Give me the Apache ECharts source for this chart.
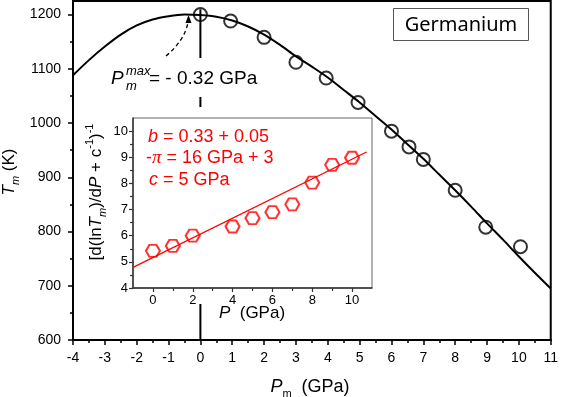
<!DOCTYPE html>
<html><head><meta charset="utf-8">
<script src="https://cdn.jsdelivr.net/npm/echarts@6/dist/echarts.min.js"></script>
<style>html,body{margin:0;padding:0;background:#fff}#c{width:561px;height:397px}</style>
</head><body><div id="c"></div>
<script>
// ---- data ----
const mainP = [0, 0.95, 2, 3, 3.95, 4.95, 6, 6.55, 7, 8, 8.96, 10.05];
const mainT = [1200, 1188, 1158, 1112, 1083, 1038, 985, 956, 933, 876, 808, 772];
const curveP = [-4, -3.5, -3, -2.5, -2, -1.5, -1, -0.5, 0, 0.5, 1, 1.5, 2, 2.5, 3, 3.5, 4, 4.5, 5, 5.5, 6, 6.5, 7, 7.5, 8, 8.5, 9, 9.5, 10, 10.5, 11];
const curveT = [1088, 1116, 1141, 1163, 1180, 1191, 1197, 1200, 1199, 1196, 1189, 1178, 1163, 1144, 1123, 1104, 1084, 1061, 1038, 1013, 988, 961, 934, 905, 876, 846, 815, 785, 754, 724, 695];
const vlineP = [0, 0];
const vlineT = [600, 1210];
const insetP = [0, 1, 2, 4, 5, 6, 7, 8, 9, 10];
const insetY = [5.42, 5.61, 6.0, 6.35, 6.67, 6.9, 7.2, 8.03, 8.71, 8.98];
const fitP = [-1, 10.73];
const fitY = [4.79, 9.2];
const mainYLabels = [600, 700, 800, 900, 1000, 1100, 1200];
const mainYMinor = [650, 750, 850, 950, 1050, 1150];
const insetXLabels = [0, 2, 4, 6, 8, 10];
const insetXMinor = [1, 3, 5, 7, 9];
const insetYLabels = [4, 5, 6, 7, 8, 9, 10];
const insetYMinor = [4.5, 5.5, 6.5, 7.5, 8.5, 9.5];

const FONT = '"Liberation Sans", Arial, sans-serif';
const zip = (a, b) => a.map((v, i) => [v, b[i]]);
const hexPath = 'path://M0,433 L250,0 L750,0 L1000,433 L750,866 L250,866 Z';
const plain = v => String(v);

const chart = echarts.init(document.getElementById('c'), null, {renderer: 'canvas'});
const lbl = (size, extra) => Object.assign({fontSize: size, color: '#000', fontFamily: FONT, formatter: plain}, extra || {});

const option = {
  animation: false,
  backgroundColor: '#fff',
  grid: [
    {left: 73, right: 6, top: 1, bottom: 57, show: true, borderColor: '#000', borderWidth: 2},
    {left: 133, right: 189, top: 118, bottom: 109, show: true, borderColor: '#666', borderWidth: 1, z: 4}
  ],
  xAxis: [
    {gridIndex: 0, type: 'value', min: -4, max: 11, interval: 1, position: 'bottom',
     axisLine: {onZero: false, lineStyle: {color: '#000', width: 2}},
     axisTick: {length: 5, lineStyle: {color: '#000', width: 1.5}},
     minorTick: {show: true, splitNumber: 2, length: 3, lineStyle: {color: '#000', width: 1.5}},
     splitLine: {show: false},
     axisLabel: lbl(14, {margin: 11})},
    {gridIndex: 1, type: 'value', min: -1, max: 11, position: 'bottom', z: 4,
     axisLine: {onZero: false, lineStyle: {color: '#333', width: 1.5}},
     axisTick: {customValues: insetXLabels, length: 4, lineStyle: {color: '#333', width: 1.2}},
     axisLabel: lbl(13, {customValues: insetXLabels, margin: 6}),
     splitLine: {show: false}},
    {gridIndex: 1, type: 'value', min: -1, max: 11, position: 'bottom', z: 4,
     axisLine: {show: false, onZero: false},
     axisTick: {customValues: insetXMinor, length: 3, lineStyle: {color: '#333', width: 1.2}},
     axisLabel: {show: false},
     splitLine: {show: false}}
  ],
  yAxis: [
    {gridIndex: 0, type: 'value', min: 600, max: 1225, position: 'left',
     axisLine: {onZero: false, lineStyle: {color: '#000', width: 2}},
     axisTick: {customValues: mainYLabels, length: 5, lineStyle: {color: '#000', width: 1.5}},
     axisLabel: lbl(14, {customValues: mainYLabels, margin: 12}),
     splitLine: {show: false}},
    {gridIndex: 0, type: 'value', min: 600, max: 1225, position: 'left',
     axisLine: {show: false, onZero: false},
     axisTick: {customValues: mainYMinor, length: 3, lineStyle: {color: '#000', width: 1.5}},
     axisLabel: {show: false},
     splitLine: {show: false}},
    {gridIndex: 1, type: 'value', min: 4, max: 10.5, position: 'left', z: 4,
     axisLine: {onZero: false, lineStyle: {color: '#333', width: 1.5}},
     axisTick: {customValues: insetYLabels, length: 4, lineStyle: {color: '#333', width: 1.2}},
     axisLabel: lbl(13, {customValues: insetYLabels, margin: 5}),
     splitLine: {show: false}},
    {gridIndex: 1, type: 'value', min: 4, max: 10.5, position: 'left', z: 4,
     axisLine: {show: false, onZero: false},
     axisTick: {customValues: insetYMinor, length: 3, lineStyle: {color: '#333', width: 1.2}},
     axisLabel: {show: false},
     splitLine: {show: false}}
  ],
  series: [
    {type: 'line', xAxisIndex: 0, yAxisIndex: 0, data: zip(vlineP, vlineT), symbol: 'none',
     lineStyle: {color: '#000', width: 2}, z: 1, silent: true},
    {type: 'line', xAxisIndex: 0, yAxisIndex: 0, data: zip(curveP, curveT), symbol: 'none', smooth: 0.3,
     lineStyle: {color: '#000', width: 2}, z: 3},
    {type: 'scatter', xAxisIndex: 0, yAxisIndex: 0, data: zip(mainP, mainT), symbol: 'circle', symbolSize: 13,
     itemStyle: {color: 'rgba(0,0,0,0)', borderColor: '#000', borderWidth: 2}, z: 3},
    {type: 'line', xAxisIndex: 1, yAxisIndex: 2, data: zip(fitP, fitY), symbol: 'none',
     lineStyle: {color: '#ff0000', width: 1.3}, z: 5},
    {type: 'scatter', xAxisIndex: 1, yAxisIndex: 2, data: zip(insetP, insetY), symbol: hexPath, symbolSize: [14, 12],
     itemStyle: {color: 'rgba(0,0,0,0)', borderColor: '#ff0000', borderWidth: 2}, z: 5}
  ],
  graphic: [
    {type: 'rect', z: 2, silent: true, shape: {x: 84, y: 107, width: 292, height: 197}, style: {fill: '#fff'}},
    {type: 'rect', z: 2, silent: true, shape: {x: 108, y: 58, width: 155, height: 39}, style: {fill: '#fff'}},
    // Germanium box
    {type: 'rect', z: 6, shape: {x: 393.5, y: 8.5, width: 135, height: 32}, style: {fill: '#fff', stroke: '#555', lineWidth: 1}},
    {type: 'text', z: 7, x: 461, y: 25, style: {text: 'Germanium', fontSize: 20, fontFamily: '"Noto Sans", sans-serif', fill: '#000', align: 'center', verticalAlign: 'middle'}},
    // P_m^max annotation
    {type: 'text', z: 7, x: 111, y: 79, style: {text: 'P', fontSize: 19, fontStyle: 'italic', fontFamily: FONT, fill: '#000', verticalAlign: 'middle'}},
    {type: 'text', z: 7, x: 126, y: 71, style: {text: 'max', fontSize: 13, fontStyle: 'italic', fontFamily: FONT, fill: '#000', verticalAlign: 'middle'}},
    {type: 'text', z: 7, x: 126, y: 86, style: {text: 'm', fontSize: 13, fontStyle: 'italic', fontFamily: FONT, fill: '#000', verticalAlign: 'middle'}},
    {type: 'text', z: 7, x: 149, y: 79, style: {text: '= - 0.32 GPa', fontSize: 19, fontFamily: FONT, fill: '#000', verticalAlign: 'middle'}},
    // dashed arrow
    {type: 'bezierCurve', z: 7, shape: {x1: 166, y1: 56, x2: 188, y2: 22, cpx1: 185, cpy1: 40}, style: {stroke: '#000', lineWidth: 1.3, lineDash: [4, 3], fill: null}},
    {type: 'polygon', z: 7, shape: {points: [[188.5, 15], [185.5, 23], [191.5, 23]]}, style: {fill: '#000'}},
    // main y name
    {type: 'text', z: 7, x: 9, y: 172, rotation: Math.PI / 2, style: {
      text: '{i|T}{s|m}{n| (K)}', align: 'center', verticalAlign: 'middle',
      rich: {i: {fontSize: 17, fontStyle: 'italic', fontFamily: FONT, lineHeight: 24},
             s: {fontSize: 11, fontStyle: 'italic', fontFamily: FONT, lineHeight: 11, verticalAlign: 'bottom'},
             n: {fontSize: 17, fontFamily: FONT, lineHeight: 24}}}},
    // main x name
    {type: 'text', z: 7, x: 310, y: 387, style: {
      text: '{i|P}{s|m}{n|  (GPa)}', align: 'center', verticalAlign: 'middle',
      rich: {i: {fontSize: 18, fontStyle: 'italic', fontFamily: FONT, lineHeight: 24},
             s: {fontSize: 11, fontFamily: FONT, lineHeight: 11, verticalAlign: 'bottom'},
             n: {fontSize: 18, fontFamily: FONT, lineHeight: 24}}}},
    // inset x name
    {type: 'text', z: 7, x: 252, y: 313, style: {
      text: '{i|P}{n|  (GPa)}', align: 'center', verticalAlign: 'middle',
      rich: {i: {fontSize: 17, fontStyle: 'italic', fontFamily: FONT}, n: {fontSize: 17, fontFamily: FONT}}}},
    // inset y name
    {type: 'text', z: 7, x: 96, y: 192, rotation: Math.PI / 2, style: {
      text: '{n|[d(ln}{i|T}{s|m}{n|)/d}{i|P}{n| + c}{p|-1}{n|)}{p|-1}', align: 'center', verticalAlign: 'middle',
      rich: {n: {fontSize: 17, fontFamily: FONT, lineHeight: 24},
             i: {fontSize: 17, fontStyle: 'italic', fontFamily: FONT, lineHeight: 24},
             s: {fontSize: 11, fontStyle: 'italic', fontFamily: FONT, lineHeight: 11, verticalAlign: 'bottom'},
             p: {fontSize: 11, fontFamily: FONT, lineHeight: 11, verticalAlign: 'top'}}}},
    // red inset equations
    {type: 'text', z: 7, x: 148, y: 137, style: {
      text: '{i|b}{n| = 0.33 + 0.05}', verticalAlign: 'middle',
      rich: {i: {fontSize: 18, fontStyle: 'italic', fontFamily: FONT, fill: '#ff0000'}, n: {fontSize: 18, fontFamily: FONT, fill: '#ff0000'}}}},
    {type: 'text', z: 7, x: 146, y: 158, style: {
      text: '{n|-}{g|π}{n| = 16 GPa + 3}', verticalAlign: 'middle',
      rich: {g: {fontSize: 19, fontStyle: 'italic', fontFamily: '"Liberation Serif", serif', fill: '#ff0000'}, n: {fontSize: 18, fontFamily: FONT, fill: '#ff0000'}}}},
    {type: 'text', z: 7, x: 149, y: 180, style: {
      text: '{i|c}{n| = 5 GPa}', verticalAlign: 'middle',
      rich: {i: {fontSize: 18, fontStyle: 'italic', fontFamily: FONT, fill: '#ff0000'}, n: {fontSize: 18, fontFamily: FONT, fill: '#ff0000'}}}}
  ]
};
chart.setOption(option);
</script>
</body></html>
